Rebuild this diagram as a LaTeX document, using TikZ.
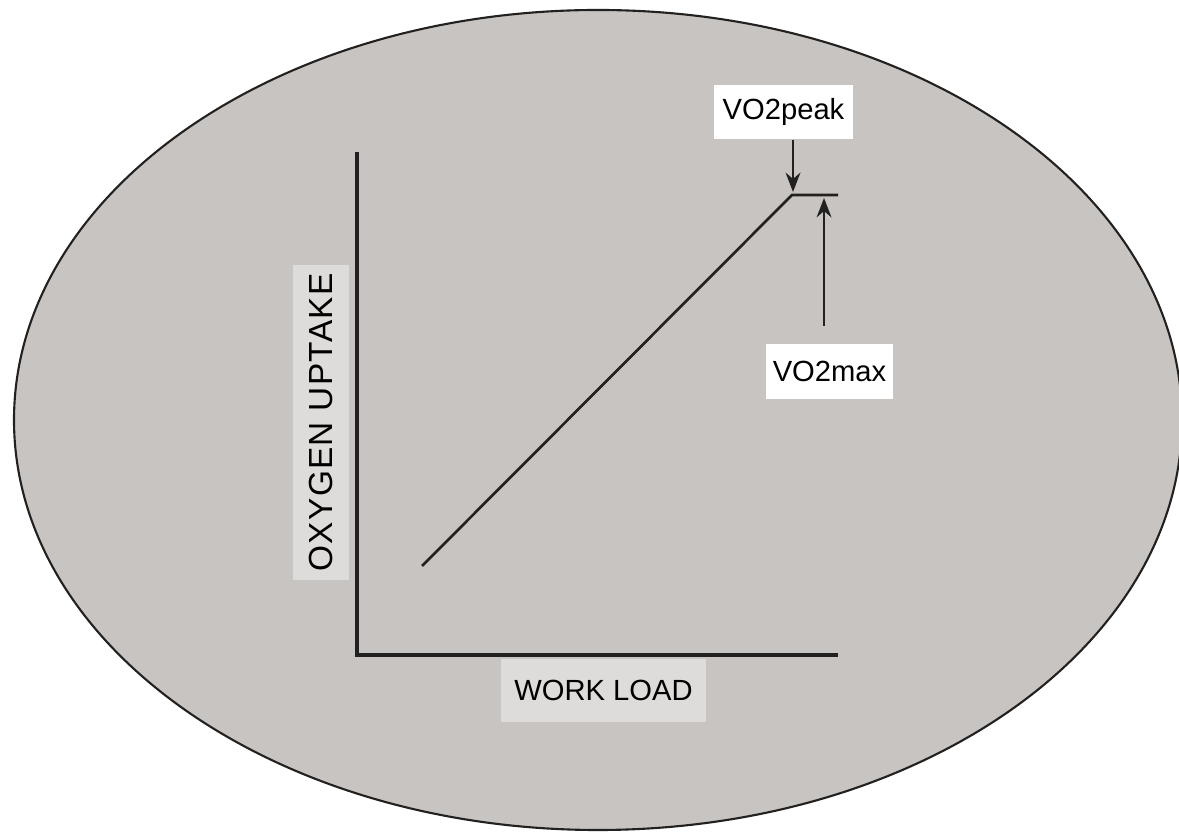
\documentclass[tikz,border=0pt]{standalone}
\usepackage{fontspec}
\setmainfont{Liberation Sans}
\usepackage{tikz}
\usetikzlibrary{arrows.meta, positioning, calc}
\definecolor{ovalgray}{RGB}{199, 196, 193}
\definecolor{labelgray}{RGB}{222, 220, 218}
\definecolor{inkdark}{RGB}{35, 33, 32}

\begin{document}
\begin{tikzpicture}[
  axisline/.style={inkdark, line width=0.9pt},
  curveline/.style={inkdark, line width=0.75pt},
  ptr/.style={inkdark, line width=0.7pt, -{Stealth[length=5.5pt, width=4.2pt]}},
  whitebox/.style={fill=white, inner sep=0pt, font=\fontsize{8.3}{10}\selectfont},
  graybox/.style={fill=labelgray, inner sep=0pt, font=\fontsize{8.3}{10}\selectfont}
]
\useasboundingbox (0,0) rectangle (11.79,8.32);

% Background oval
\begin{scope}
\clip (0,0) rectangle (11.79,8.32);
\filldraw[fill=ovalgray, draw=inkdark, line width=0.6pt] (5.98,4.12) ellipse (5.84 and 4.10);
\end{scope}

% Axes
\coordinate (origin) at (3.57,1.77);
\coordinate (ytop) at (3.57,6.80);
\coordinate (xend) at (8.38,1.77);
\draw[axisline] (ytop) -- (origin) -- (xend);

% Axis labels
\node[graybox, minimum width=2.05cm, minimum height=0.63cm] (xlabel) at (6.035,1.415) {WORK LOAD};
\node[graybox, rotate=90, minimum width=3.15cm, minimum height=0.56cm, font=\fontsize{9.5}{11}\selectfont] (ylabel) at (3.21,4.095) {\addfontfeature{LetterSpace=4}OXYGEN UPTAKE};

% Uptake curve with plateau
\coordinate (start) at (4.22,2.66);
\coordinate (peak) at (7.92,6.37);
\coordinate (plateau) at (8.38,6.37);
\draw[curveline] (start) -- (peak) -- (plateau);

% Markers
\node[whitebox, minimum width=1.39cm, minimum height=0.54cm] (vopeak) at (7.835,7.20) {VO2peak};
\node[whitebox, minimum width=1.27cm, minimum height=0.55cm] (vomax) at (8.295,4.605) {VO2max};
\coordinate (peaktip) at (7.93,6.40);
\coordinate (maxtip) at (8.24,6.34);
\draw[ptr] (vopeak.south -| peaktip) -- (peaktip);
\draw[ptr] ([yshift=5pt]vomax.north -| maxtip) -- (maxtip);
\end{tikzpicture}
\end{document}
